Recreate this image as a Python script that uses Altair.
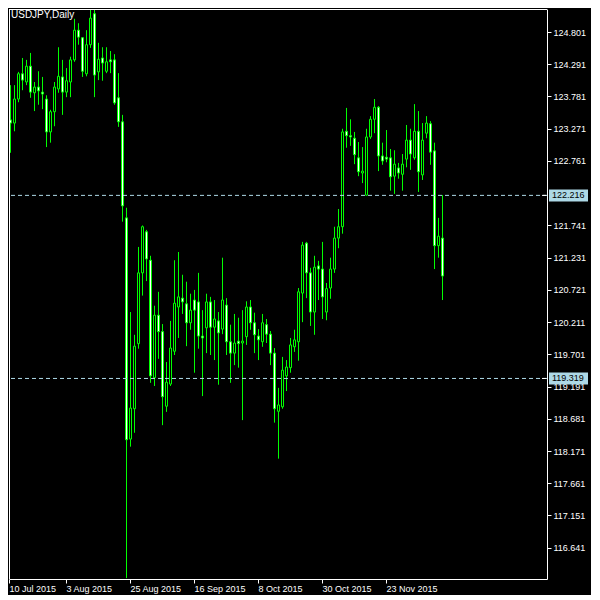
import altair as alt
import pandas as pd

chart_title = "USDJPY,Daily"
first_day = "2015-07-10"

bar_open = [121.51, 122.29, 123.41, 123.36, 123.74, 124.14, 124.01, 124.26, 123.84, 123.93,
            123.85, 123.74, 123.22, 123.54, 123.90, 124.09, 123.85, 124.01, 124.36, 124.83,
            124.71, 124.14, 124.60, 125.09, 124.17, 124.39, 124.18, 124.36, 124.36, 123.76,
            123.38, 121.86, 118.36, 118.84, 119.87, 120.99, 121.64, 121.19, 119.33, 120.32,
            120.06, 118.88, 119.23, 119.75, 120.45, 120.59, 120.50, 120.20, 120.56, 120.53,
            119.99, 120.12, 120.53, 120.13, 120.23, 120.10, 120.48, 119.90, 119.72, 119.91,
            119.88, 119.98, 120.45, 120.20, 119.99, 119.90, 120.17, 120.02, 119.72, 118.80,
            118.87, 119.36, 119.49, 119.82, 119.90, 120.67, 121.46, 120.99, 120.37, 121.10,
            121.05, 120.37, 120.75, 121.05, 121.54, 121.72, 123.23, 123.16, 123.12, 122.81,
            122.57, 122.22, 123.14, 123.42, 123.61, 122.84, 122.82, 122.81, 122.52, 122.65,
            122.55, 122.79, 123.09, 122.81, 123.23, 122.54, 123.20, 123.35, 122.92, 121.42,
            121.54]
bar_high = [122.74, 123.52, 123.96, 123.96, 124.17, 124.39, 124.36, 124.47, 124.01, 124.18,
            124.09, 123.80, 123.57, 124.01, 124.56, 124.36, 124.23, 124.41, 125.01, 124.94,
            124.72, 124.83, 125.20, 125.26, 124.63, 124.56, 124.56, 124.50, 124.45, 124.15,
            123.49, 122.02, 120.37, 120.01, 121.40, 121.74, 121.67, 121.26, 120.47, 120.69,
            120.18, 119.58, 120.23, 121.19, 121.32, 120.96, 120.85, 120.66, 120.72, 120.99,
            120.40, 120.66, 120.61, 120.56, 120.37, 121.23, 120.59, 120.17, 120.34, 120.28,
            120.40, 120.54, 120.56, 120.36, 120.10, 120.34, 120.26, 120.07, 119.80, 119.17,
            119.66, 119.61, 119.96, 120.09, 120.75, 121.48, 121.48, 121.07, 121.26, 121.18,
            121.48, 120.83, 121.23, 121.72, 122.00, 123.27, 123.60, 123.42, 123.22, 123.06,
            122.98, 123.27, 123.47, 123.74, 123.63, 123.05, 123.25, 122.95, 122.93, 122.73,
            122.87, 123.33, 123.27, 123.66, 123.55, 123.36, 123.47, 123.39, 123.05, 121.86,
            122.22]
bar_low = [121.32, 122.27, 122.89, 123.23, 123.69, 123.88, 123.96, 123.76, 123.55, 123.65,
           123.58, 122.98, 123.05, 123.31, 123.84, 123.49, 123.77, 123.77, 124.33, 124.60,
           124.09, 124.10, 124.55, 123.77, 124.04, 124.03, 124.15, 124.15, 123.65, 123.30,
           121.80, 116.16, 118.24, 118.46, 119.79, 120.63, 120.86, 119.25, 119.20, 119.63,
           118.58, 118.79, 119.20, 119.69, 119.96, 120.34, 119.83, 120.09, 119.41, 119.79,
           119.04, 119.72, 119.69, 119.61, 119.22, 120.02, 119.69, 119.25, 119.53, 119.49,
           118.66, 119.85, 120.09, 119.72, 119.61, 119.82, 119.88, 119.53, 118.62, 118.05,
           118.84, 119.12, 119.41, 119.74, 119.60, 120.21, 120.59, 120.15, 120.01, 120.56,
           120.26, 120.24, 120.58, 120.99, 121.38, 121.61, 122.97, 123.00, 122.71, 122.52,
           122.41, 122.21, 123.11, 123.20, 122.60, 122.70, 122.74, 122.29, 122.24, 122.48,
           122.29, 122.66, 122.62, 122.78, 122.27, 122.46, 123.12, 122.70, 121.05, 121.23,
           120.56]
bar_close = [122.29, 123.41, 123.36, 123.74, 124.14, 124.04, 124.26, 123.85, 123.93, 123.87,
             123.82, 123.22, 123.54, 123.93, 124.10, 123.85, 124.03, 124.36, 124.83, 124.72,
             124.18, 124.60, 125.02, 124.12, 124.37, 124.31, 124.33, 124.33, 123.68, 123.38,
             122.05, 118.35, 118.85, 119.83, 120.99, 121.72, 121.21, 119.36, 120.32, 120.06,
             119.03, 119.26, 119.80, 120.51, 120.61, 120.53, 120.20, 120.40, 120.40, 119.99,
             119.96, 120.53, 120.13, 120.26, 120.04, 120.56, 119.90, 119.72, 119.88, 119.87,
             119.91, 120.45, 120.20, 120.01, 119.93, 120.20, 120.02, 119.72, 118.84, 118.90,
             119.45, 119.50, 119.85, 119.93, 120.69, 121.43, 120.99, 120.37, 121.08, 121.05,
             120.61, 120.74, 121.05, 121.54, 121.72, 123.22, 123.16, 123.14, 122.86, 122.59,
             122.60, 123.14, 123.42, 123.61, 122.84, 122.76, 122.79, 122.51, 122.71, 122.57,
             122.71, 123.09, 122.87, 123.23, 122.59, 123.09, 123.36, 122.90, 121.42, 121.57,
             120.94]

x_tick_bars = [0, 16, 32, 48, 64, 80, 96]
x_tick_labels = ["10 Jul 2015", "3 Aug 2015", "25 Aug 2015", "16 Sep 2015",
                 "8 Oct 2015", "30 Oct 2015", "23 Nov 2015"]
# 122.251 is hidden under the 122.216 price box in the reference
y_tick_values = [124.801, 124.291, 123.781, 123.271, 122.761, 121.741, 121.231,
                 120.721, 120.211, 119.701, 119.191, 118.681, 118.171, 117.661, 117.151, 116.641]
level_prices = [122.216, 119.319]

# ---- layout / style ----
W, H = 538, 570
x_min = 1.75
x_max = x_min + W / 4.0
y_top = 125.165
y_bottom = 116.146
GREEN = "#00FF00"
LEVEL = "#ADD8E6"
FONT = "Liberation Sans"

n = len(bar_open)
df = pd.DataFrame({
    "bar": list(range(n)),
    "date": pd.bdate_range(first_day, periods=n).strftime("%Y-%m-%d"),
    "open": bar_open, "high": bar_high, "low": bar_low, "close": bar_close,
})
levels = pd.DataFrame({"price": level_prices,
                       "label": [f"{p:.3f}" for p in level_prices]})
one = pd.DataFrame({"k": [0]})

xs = alt.Scale(domain=[x_min, x_max], nice=False, zero=False, padding=0)
ys = alt.Scale(domain=[y_bottom, y_top], nice=False, zero=False, padding=0)

x_vals = [max(v, x_min) for v in x_tick_bars]
labels_js = "[" + ",".join(f"'{s}'" for s in x_tick_labels) + "]"
vals_js = "[" + ",".join(str(v) for v in x_vals) + "]"
label_expr = f"{labels_js}[indexof({vals_js}, datum.value)]"

def x_axis():
    return alt.Axis(values=x_vals, labelExpr=label_expr, orient="bottom", tickSize=4,
                    labelAlign="left", labelBaseline="top", labelPadding=1,
                    labelColor="white", tickColor="white", domainColor="white",
                    labelFont=FONT, labelFontSize=9, labelOverlap=False,
                    labelFlush=False, grid=False, title=None)

def y_axis():
    return alt.Axis(values=y_tick_values, format=".3f", orient="right", tickSize=4,
                    labelPadding=2, labelColor="white", tickColor="white",
                    domainColor="white", labelFont=FONT, labelFontSize=9,
                    labelOverlap=False, labelFlush=False, grid=False, title=None)

base = alt.Chart(df).transform_calculate(
    xm="datum.bar + 0.125",
    side="datum.close >= datum.open ? 'bull' : 'bear'",
)

wicks = base.mark_rule(color=GREEN, strokeWidth=1, clip=True).encode(
    x=alt.X("xm:Q", scale=xs, axis=x_axis()),
    y=alt.Y("low:Q", scale=ys, axis=y_axis()),
    y2="high:Q",
)

bodies = base.mark_bar(size=2, stroke=GREEN, strokeWidth=1, clip=True).encode(
    x=alt.X("xm:Q", scale=xs, axis=x_axis()),
    y=alt.Y("open:Q", scale=ys, axis=y_axis()),
    y2="close:Q",
    fill=alt.Fill("side:N", scale=alt.Scale(domain=["bull", "bear"], range=["black", "white"]),
                  legend=None),
)

level_lines = alt.Chart(levels).mark_rule(color=LEVEL, strokeDash=[4, 3], strokeWidth=1,
                                          clip=True).encode(
    y=alt.Y("price:Q", scale=ys, axis=y_axis())
)

pointers = alt.Chart(levels).mark_rule(color="white", strokeWidth=1).encode(
    x=alt.value(W - 5), x2=alt.value(W - 1),
    y=alt.Y("price:Q", scale=ys, axis=y_axis()),
)

boxes = alt.Chart(levels).mark_point(
    shape="M-1,-0.3077H1V0.3077H-1Z", size=1521, filled=True, fill=LEVEL,
    strokeWidth=0, opacity=1
).encode(
    x=alt.value(W + 21.5),
    y=alt.Y("price:Q", scale=ys, axis=y_axis()),
)

box_text = alt.Chart(levels).mark_text(align="left", baseline="middle", color="black",
                                       font=FONT, fontSize=9).encode(
    x=alt.value(W + 5),
    y=alt.Y("price:Q", scale=ys, axis=y_axis()),
    text="label:N",
)

frame_left = alt.Chart(one).mark_rule(color="white", strokeWidth=1).encode(
    x=alt.value(0.5), y=alt.value(0), y2=alt.value(H))
frame_top = alt.Chart(one).mark_rule(color="white", strokeWidth=1).encode(
    y=alt.value(0.5), x=alt.value(0), x2=alt.value(W))

title_text = alt.Chart(one).mark_text(align="left", baseline="top", color="white",
                                      font=FONT, fontSize=10).encode(
    x=alt.value(2), y=alt.value(1), text=alt.value(chart_title))

chart = alt.layer(
    wicks, bodies, level_lines, pointers, boxes, box_text, frame_left, frame_top, title_text
).properties(
    width=W, height=H,
    padding={"left": 1, "top": 1, "right": 44, "bottom": 16},
    autosize=alt.AutoSizeParams(type="none"),
).configure(background="black").configure_view(strokeWidth=0)

chart.save("out.html", embed_options={"renderer": "svg", "actions": False})
